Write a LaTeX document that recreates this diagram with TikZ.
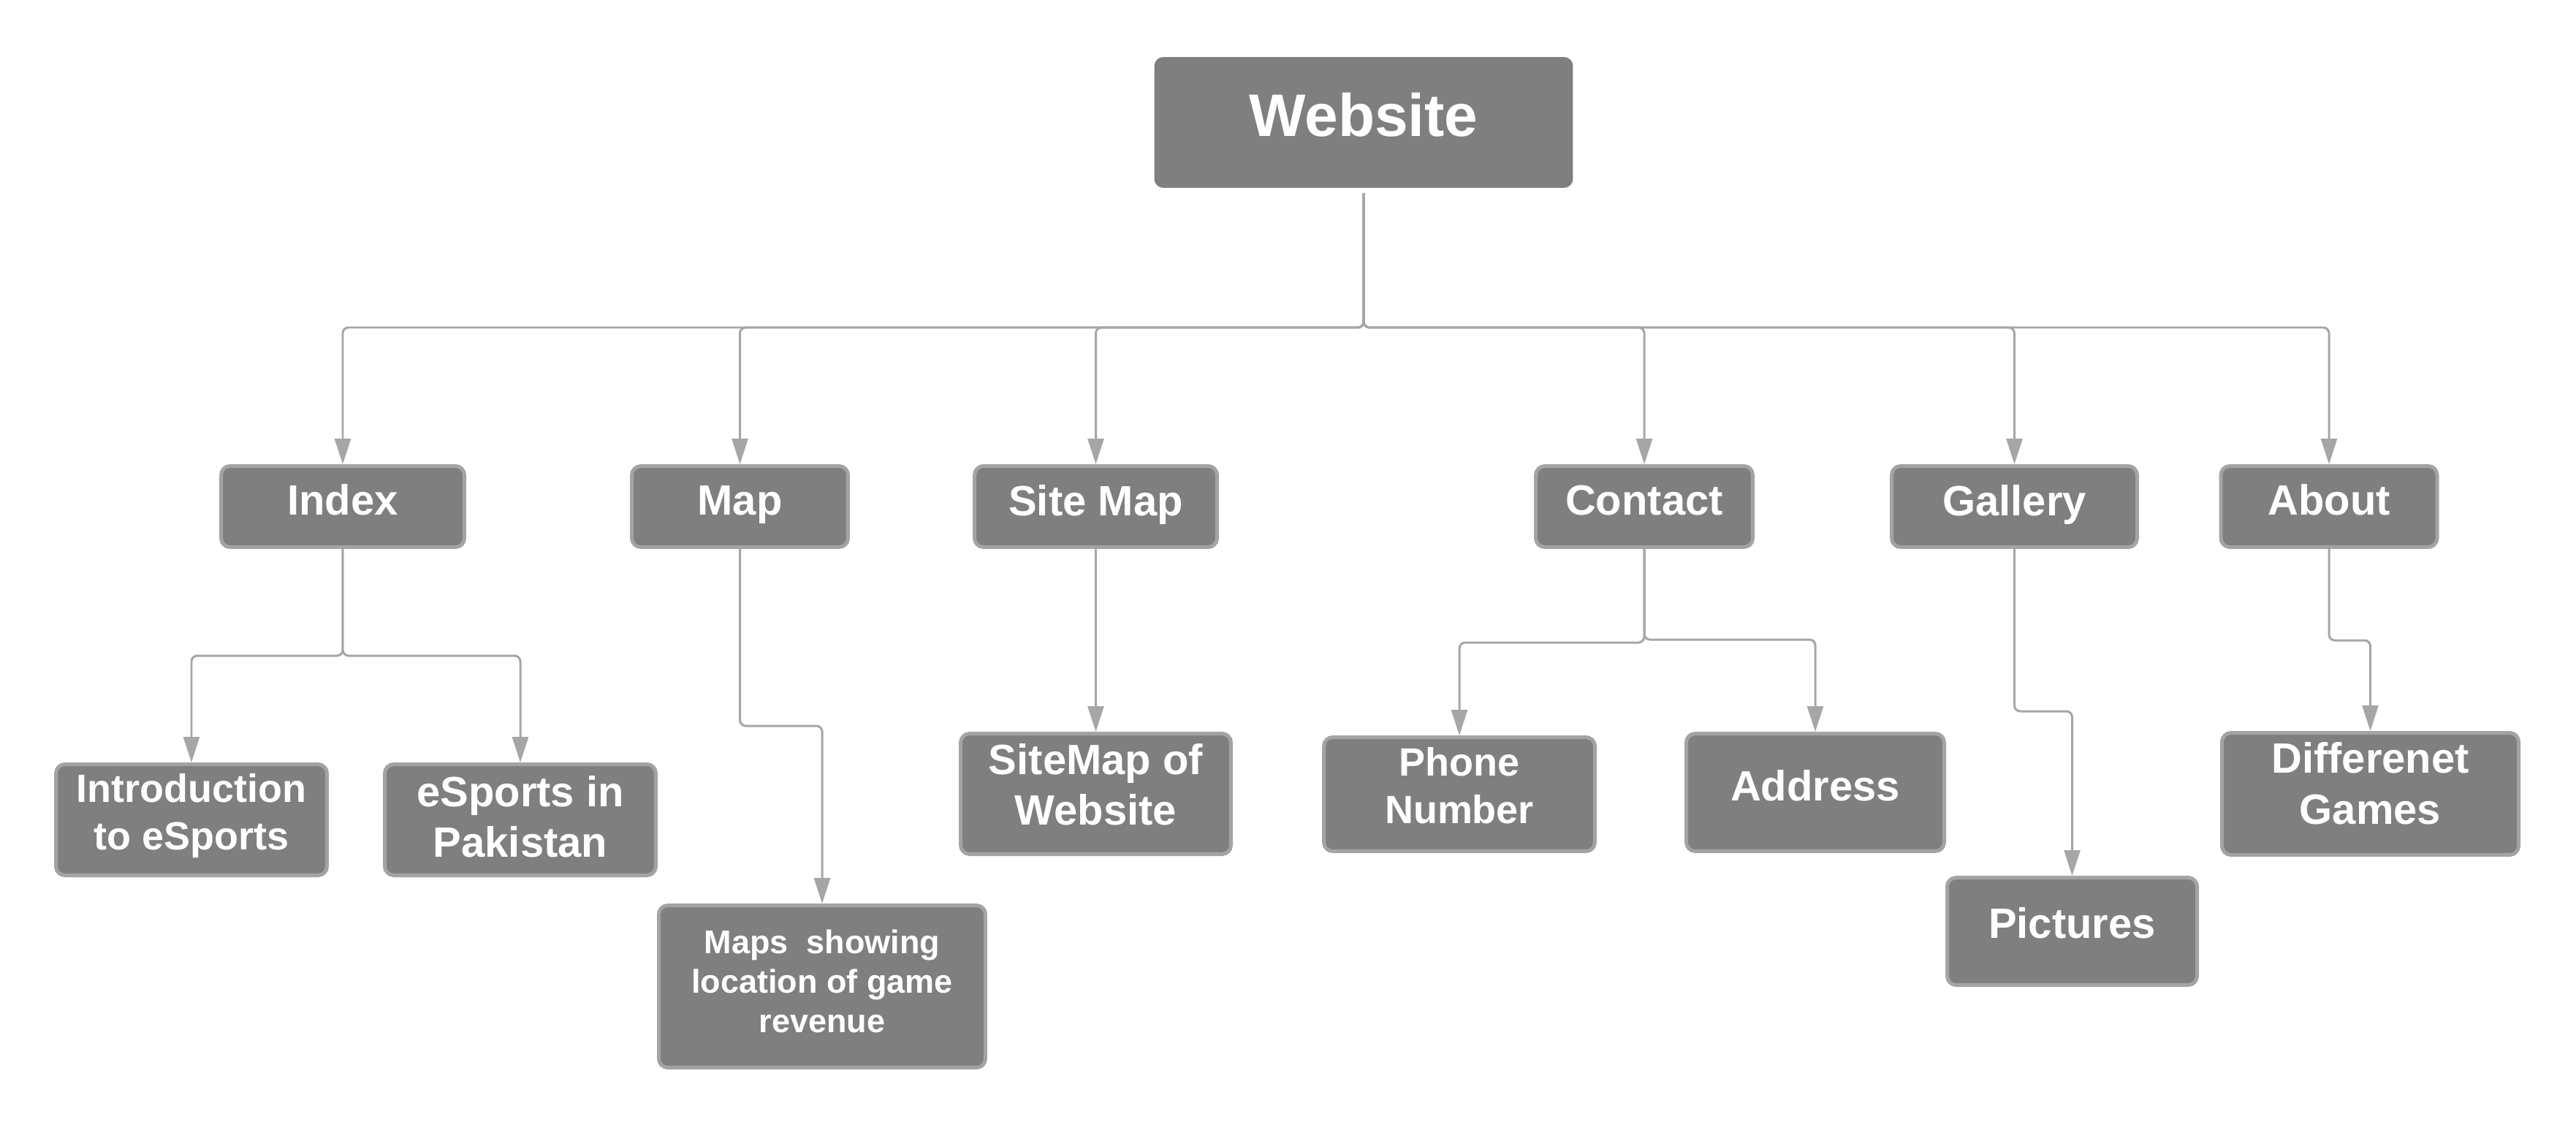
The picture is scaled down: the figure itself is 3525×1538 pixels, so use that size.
\documentclass[tikz,border=0pt]{standalone}
\usepackage{fontspec}
\setmainfont{Liberation Sans}
\usetikzlibrary{arrows.meta}
\definecolor{boxfill}{HTML}{7F7F7F}
\definecolor{boxedge}{HTML}{A3A3A3}
\definecolor{wire}{HTML}{A6A6A6}
% invisible rule that adds depth below the last text line
\newcommand\sinkby[1]{\rule[-#1]{0pt}{#1}}

\begin{document}
\begin{tikzpicture}[x=0.02cm, y=-0.02cm,
  card/.style n args={2}{rectangle, rounded corners=7pt, fill=boxfill,
    draw=boxedge, line width=2.85pt, inner sep=0pt, text=white, align=center,
    minimum width={#1*0.5690551pt-2.85pt},
    minimum height={#2*0.5690551pt-2.85pt}},
  fhuge/.style={font=\bfseries\fontsize{46.7}{56}\selectfont},
  fbig/.style={font=\bfseries\fontsize{33}{39.6}\selectfont},
  fmid/.style={font=\bfseries\fontsize{30.7}{36.9}\selectfont},
  fsmall/.style={font=\bfseries\fontsize{25.6}{30.9}\selectfont},
  link/.style={draw=wire, line width=1.7pt, rounded corners=4.5pt,
    -{Triangle[length=19.9pt,width=12.5pt]}}
]
\fill[white] (0,0) rectangle (3525,1538);
\useasboundingbox (0,0) rectangle (3525,1538);

% root
\node[card={578}{184}, draw=none, outer ysep=4pt, fhuge] (W) at (1866,167.5) {Website\sinkby{0.25em}};

% first level
\node[card={338}{116}, fbig] (Index)   at (469,693)    {Index\sinkby{0.32em}};
\node[card={301}{116}, fbig] (Map)     at (1012.5,693) {Map\sinkby{0.28em}};
\node[card={337}{116}, fbig] (Site)    at (1499.5,693) {Site Map\sinkby{0.28em}};
\node[card={302}{116}, fbig] (Contact) at (2250,693)   {Contact\sinkby{0.3em}};
\node[card={341}{116}, fbig] (Gallery) at (2756.5,693) {Gallery\sinkby{0.3em}};
\node[card={301}{116}, fbig] (About)   at (3187,693)   {About\sinkby{0.33em}};

% second level
\node[card={376}{157}, fmid] (Intro) at (262,1121.5) {Introduction\\to eSports\sinkby{0.4em}};
\node[card={376}{157}, fbig] (Pak)   at (712,1121.5) {eSports in\\Pakistan\sinkby{0.15em}};
\node[card={452}{227}, fsmall] (Maps) at (1125,1349.5) {Maps\ \ showing\\location of game\\revenue\sinkby{0.33em}};
\node[card={375}{170}, fbig] (SiteWeb) at (1499.5,1086) {SiteMap of\\Website\sinkby{0.45em}};
\node[card={376}{161}, fmid] (Phone) at (1997,1086.5) {Phone\\Number\sinkby{0.45em}};
\node[card={358}{166}, fbig] (Address) at (2484,1084) {Address\sinkby{0.33em}};
\node[card={347}{152}, fbig] (Pictures) at (2835.5,1274) {Pictures\sinkby{0.4em}};
\node[card={411}{172}, fbig] (Games) at (3243.5,1086) {Differenet\\Games\sinkby{0.5em}};

% heights of the horizontal runs
\coordinate (bus)   at (0,448);
\coordinate (ibus)  at (0,897);
\coordinate (mbend) at (0,993);
\coordinate (cbusL) at (0,879);
\coordinate (cbusR) at (0,875);
\coordinate (gbend) at (0,973);
\coordinate (abend) at (0,876);

% root to first level
\foreach \c in {Index,Map,Site,Contact,Gallery,About}
  \draw[link] (W.south) -- (W.south |- bus) -- (\c.north |- bus) -- (\c.north);

% first level to second level
\draw[link] (Index.south) -- (Index.south |- ibus) -- (Intro.north |- ibus) -- (Intro.north);
\draw[link] (Index.south) -- (Index.south |- ibus) -- (Pak.north |- ibus) -- (Pak.north);
\draw[link] (Map.south) -- (Map.south |- mbend) -- (Maps.north |- mbend) -- (Maps.north);
\draw[link] (Site.south) -- (SiteWeb.north);
\draw[link] (Contact.south) -- (Contact.south |- cbusL) -- (Phone.north |- cbusL) -- (Phone.north);
\draw[link] (Contact.south) -- (Contact.south |- cbusR) -- (Address.north |- cbusR) -- (Address.north);
\draw[link] (Gallery.south) -- (Gallery.south |- gbend) -- (Pictures.north |- gbend) -- (Pictures.north);
\draw[link] (About.south) -- (About.south |- abend) -- (Games.north |- abend) -- (Games.north);
\end{tikzpicture}
\end{document}
